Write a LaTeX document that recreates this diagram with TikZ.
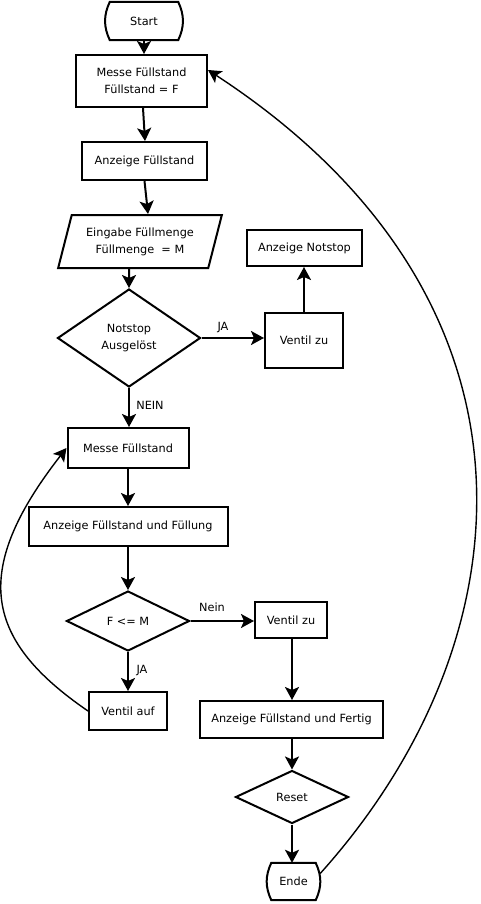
\documentclass[tikz,border=0pt]{standalone}
\usepackage{fontspec}
\setmainfont{DejaVu Sans}
\usetikzlibrary{shapes.geometric,arrows.meta}
\begin{document}
\begin{tikzpicture}[x=1pt,y=-1pt,
  every node/.style={font=\fontsize{11.3}{17}\selectfont, align=center, inner sep=0pt},
  box/.style={draw, line width=2pt, rectangle},
  term/.style={rectangle},
  termline/.style={line width=2pt},
  dia/.style={draw, line width=2pt, diamond},
  para/.style={draw, line width=2pt, trapezium, trapezium left angle=69, trapezium right angle=111, trapezium stretches=true},
  arr/.style={line width=2pt, -{Stealth[length=13pt,width=14pt,inset=3pt]}},
  carr/.style={line width=1.4pt, -{Stealth[length=13pt,width=14pt,inset=3pt]}},
  lbl/.style={font=\fontsize{11.3}{12}\selectfont}
]
\useasboundingbox (0,0) rectangle (481,904);

\node[term, minimum width=68pt, minimum height=38pt] (start) at (144,21) {Start};
\draw[termline] (start.north west) to[bend right=25] (start.south west) -- (start.south east) to[bend right=25] (start.north east) -- cycle;
\node[box, minimum width=131pt, minimum height=52pt] (m1) at (141.5,81) {Messe Füllstand\\Füllstand = F};
\node[box, minimum width=125pt, minimum height=38pt] (a1) at (144.5,161) {Anzeige Füllstand};
\node[para, minimum width=164pt, minimum height=53pt] (pa) at (140,241.5) {Eingabe Füllmenge\\Füllmenge\ \ = M};
\node[dia, minimum width=143pt, minimum height=98pt] (d1) at (129,338) {Notstop\\Ausgelöst};
\node[box, minimum width=78pt, minimum height=55pt] (v1) at (304,340.5) {Ventil zu};
\node[box, minimum width=115pt, minimum height=36pt] (an) at (304.5,248) {Anzeige Notstop};
\node[box, minimum width=121pt, minimum height=40pt] (m2) at (128,448) {Messe Füllstand};
\node[box, minimum width=199pt, minimum height=39pt] (a2) at (128,526.5) {Anzeige Füllstand und Füllung};
\node[dia, minimum width=123pt, minimum height=60pt] (d2) at (128,621) {F <= M};
\node[box, minimum width=78pt, minimum height=38pt] (va) at (128,711) {Ventil auf};
\node[box, minimum width=72pt, minimum height=36pt] (v2) at (291,620) {Ventil zu};
\node[box, minimum width=183pt, minimum height=37pt] (af) at (291.5,719.5) {Anzeige Füllstand und Fertig};
\node[dia, minimum width=113pt, minimum height=53pt] (d3) at (292,797) {Reset};
\node[term, minimum width=44pt, minimum height=37pt] (ende) at (293.5,881.5) {Ende};
\draw[termline] (ende.north west) to[bend right=25] (ende.south west) -- (ende.south east) to[bend right=25] (ende.north east) -- cycle;

\node[lbl] (lja1) at (223,328) {JA};
\node[lbl] (lnein1) at (150,405) {NEIN};
\node[lbl] (lnein2) at (212,607) {Nein};
\node[lbl] (lja2) at (142,671) {JA};

\draw[arr] (start.south) -- (start.south |- m1.north);
\draw[arr] ([xshift=1.5pt]m1.south) -- ([xshift=0.5pt]a1.north);
\draw[arr] (a1.south) -- ([xshift=8pt]pa.north);
\draw[arr] ([xshift=-11pt]pa.south) -- (d1.north);
\draw[arr] (d1.east) -- (d1.east -| v1.west);
\draw[arr] (v1.north) -- (v1.north |- an.south);
\draw[arr] (d1.south) -- (d1.south |- m2.north);
\draw[arr] (m2.south) -- (a2.north);
\draw[arr] (a2.south) -- (d2.north);
\draw[arr] (d2.east) -- (d2.east -| v2.west);
\draw[arr] (d2.south) -- (va.north);
\draw[arr] ([xshift=1pt]v2.south) -- ([xshift=0.5pt]af.north);
\draw[arr] (af.south -| d3.north) -- (d3.north);
\draw[arr] (d3.south) -- (d3.south |- ende.north);
\draw[carr] (va.west) .. controls (-14,641) and (-31,573) .. (m2.west);
\draw[carr] ([shift={(4.5pt,8pt)}]ende.east) .. controls (530,640) and (560,300) .. ([yshift=11pt]m1.east);
\end{tikzpicture}
\end{document}
